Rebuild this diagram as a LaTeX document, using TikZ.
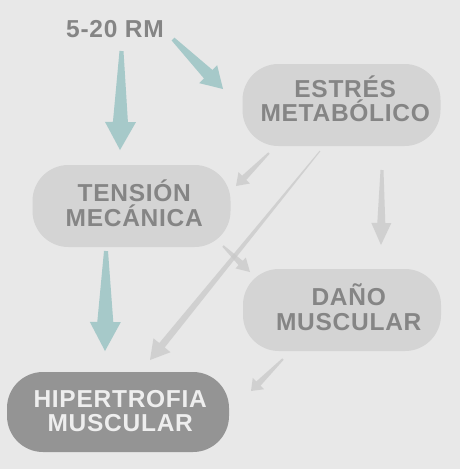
\documentclass[tikz,border=0pt]{standalone}
\usepackage{fontspec}
\setmainfont{Liberation Sans}
\newfontfamily\boxfont[LetterSpace=3]{Liberation Sans Bold}
\usetikzlibrary{calc}
\definecolor{bgc}{HTML}{E8E8E8}
\definecolor{boxc}{HTML}{D4D4D4}
\definecolor{darkbox}{HTML}{949494}
\definecolor{txtc}{HTML}{858585}
\definecolor{whitetxt}{HTML}{EEEEEE}
\definecolor{tealc}{HTML}{A6C9C9}
\definecolor{lgray}{HTML}{C8C8C8}
% two centred lines: {shift}{raise line 1}{raise line 2}{line 1}{line 2}
\newcommand\twolines[5]{\hspace*{#1}%
  \makebox[0pt]{\raisebox{#2}[0pt][0pt]{#4}}%
  \makebox[0pt]{\raisebox{#3}[0pt][0pt]{#5}}}
% tapered arrow: [style]{start}{tip}{half width start}{half width at head}{head length}{head half width} (all in pt)
\newcommand\tarrow[7][]{%
  \path ($(#3)!#6pt!(#2)$) coordinate (hb);
  \fill[#1] ($(#2)!#4pt!90:(#3)$) -- ($(hb)!#5pt!-90:(#2)$) -- ($(hb)!#7pt!-90:(#2)$) -- (#3)
    -- ($(hb)!#7pt!90:(#2)$) -- ($(hb)!#5pt!90:(#2)$) -- ($(#2)!#4pt!-90:(#3)$) -- cycle;}
\tikzset{
  box/.style={rounded corners=36pt, fill=boxc, text=txtc,
    font=\boxfont\fontsize{24.5}{24.5}\selectfont, inner sep=0pt,
    minimum width=198pt, minimum height=82pt},
  darkboxst/.style={box, fill=darkbox, text=whitetxt, minimum width=222pt, minimum height=80pt},
  tealarrow/.style={fill=tealc},
  grayarrow/.style={fill=lgray, fill opacity=0.75},
}
\begin{document}
\begin{tikzpicture}[x=1pt,y=-1pt]
\fill[bgc] (0,0) rectangle (460,469);
\useasboundingbox (0,0) rectangle (460,469);

\node[font=\boxfont\fontsize{24.5}{24.5}\selectfont, text=txtc, inner sep=0pt] (rm) at (115,29) {5-20 RM};
\node[box] (est) at (341.5,105) {\twolines{7.5pt}{7.5pt}{-16.7pt}{ESTRÉS}{METABÓLICO}};
\node[box] (ten) at (131.5,206) {\twolines{5.5pt}{4.3pt}{-20.7pt}{TENSIÓN}{MECÁNICA}};
\node[box] (dan) at (342,310) {\twolines{13.5pt}{4.3pt}{-20pt}{DAÑO}{MUSCULAR}};
\node[darkboxst] (hip) at (118,412) {\twolines{4.5pt}{5pt}{-19.5pt}{HIPERTROFIA}{MUSCULAR}};

% arrow end points
\coordinate (t1a) at (121.5,51);  \coordinate (t1b) at (120,150);
\coordinate (t2a) at (173,39);    \coordinate (t2b) at (223,89);
\coordinate (t3a) at (106,251);   \coordinate (t3b) at (105,351);
\coordinate (g1a) at (269,153);   \coordinate (g1b) at (236,186);
\coordinate (g2a) at (320,151);   \coordinate (g2b) at (150,360);
\coordinate (g3a) at (382,170);   \coordinate (g3b) at (381,245);
\coordinate (g4a) at (223,246);   \coordinate (g4b) at (250,272);
\coordinate (g5a) at (283,359);   \coordinate (g5b) at (251,391);

\tarrow[tealarrow]{t1a}{t1b}{2}{7.5}{28}{15.5}
\tarrow[tealarrow]{t2a}{t2b}{2}{6}{21}{12.7}
\tarrow[tealarrow]{t3a}{t3b}{2}{8}{29}{15.5}

\tarrow[grayarrow]{g1a}{g1b}{1}{3}{11.5}{8}
\tarrow[grayarrow]{g2a}{g2b}{0.5}{3.5}{19}{11}
\tarrow[grayarrow]{g3a}{g3b}{1.5}{4}{22}{10}
\tarrow[grayarrow]{g4a}{g4b}{1}{3}{13}{7.5}
\tarrow[grayarrow]{g5a}{g5b}{1}{3}{10.5}{8}
\end{tikzpicture}
\end{document}
